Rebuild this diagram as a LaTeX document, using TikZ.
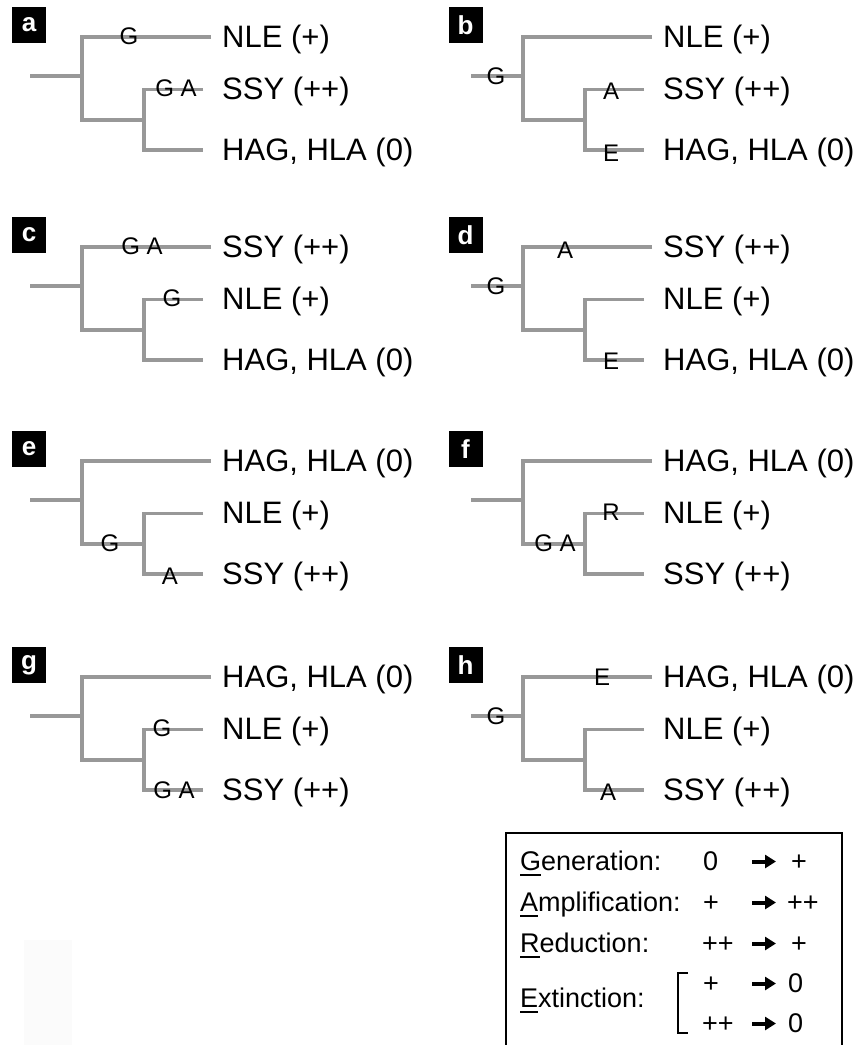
\documentclass[tikz,border=0pt]{standalone}
\usepackage{fontspec}
\setmainfont{Liberation Sans}
\usetikzlibrary{arrows.meta}
\definecolor{branchgray}{RGB}{152,152,152}
\newcommand{\ulet}[1]{\sbox0{#1}\rlap{\rule[-6pt]{\wd0}{2pt}}#1}
\tikzset{
 branch/.style={draw=branchgray, line width=3.2pt},
 leaf/.style={anchor=base west, inner sep=0pt, font=\fontsize{31}{36}\selectfont},
 mut/.style={inner sep=0pt, font=\fontsize{24}{28}\selectfont},
 panellabel/.style={fill=black, text=white, minimum width=34pt, minimum height=36pt, inner sep=0pt, font=\fontsize{26}{30}\selectfont\bfseries},
 legtext/.style={anchor=base west, inner sep=0pt, font=\fontsize{27}{31}\selectfont},
 legarrow/.style={-{Triangle[length=11pt,width=13pt]}, line width=4pt},
 frame/.style={line width=2.3pt},
}
% #1 prefix, #2 letter, #3 box x, #4 top, #5 mid, #6 bottom
\newcommand{\phylo}[6]{%
 \node[panellabel] (#1-lab) at (#3,-12) {#2};
 \coordinate (#1-s) at (30,39); \coordinate (#1-r) at (82,39);
 \coordinate (#1-t) at (82,0); \coordinate (#1-l) at (82,83);
 \coordinate (#1-te) at (211,0);
 \coordinate (#1-i) at (144,83); \coordinate (#1-im) at (144,52.5); \coordinate (#1-ib) at (144,113);
 \coordinate (#1-me) at (203,52.5); \coordinate (#1-be) at (203,113);
 \draw[branch] (#1-s) -- (#1-r);
 \draw[branch] (#1-te) -- (#1-t) -- (#1-l) -- (#1-i);
 \draw[branch] (#1-me) -- (#1-im) -- (#1-ib) -- (#1-be);
 \node[leaf] (#1-top) at (222,10) {#4};
 \node[leaf] (#1-mid) at (222,62.5) {#5};
 \node[leaf] (#1-bot) at (222,123) {#6};
}
\begin{document}
\begin{tikzpicture}[x=1pt,y=-1pt]
\useasboundingbox (0,0) rectangle (859,1045);
\fill[black!1.5] (24,940) rectangle (72,1045);
% a
\begin{scope}[shift={(0,37)}]
 \phylo{a}{a}{29}{NLE (+)}{SSY (++)}{HAG, HLA (0)}
 \node[mut] (a-m1) at (129,-1) {G};
 \node[mut] (a-m2) at (176,51.5) {G A};
\end{scope}
% b
\begin{scope}[shift={(441,37)}]
 \phylo{b}{b}{24.5}{NLE (+)}{SSY (++)}{HAG, HLA (0)}
 \node[mut] (b-m1) at (55,39) {G};
 \node[mut] (b-m2) at (170,54) {A};
 \node[mut] (b-m3) at (170,116) {E};
\end{scope}
% c
\begin{scope}[shift={(0,247)}]
 \phylo{c}{c}{29}{SSY (++)}{NLE (+)}{HAG, HLA (0)}
 \node[mut] (c-m1) at (142,-1) {G A};
 \node[mut] (c-m2) at (172,51.5) {G};
\end{scope}
% d
\begin{scope}[shift={(441,247)}]
 \phylo{d}{d}{24.5}{SSY (++)}{NLE (+)}{HAG, HLA (0)}
 \node[mut] (d-m1) at (55,39) {G};
 \node[mut] (d-m2) at (124,3) {A};
 \node[mut] (d-m3) at (170,114) {E};
\end{scope}
% e
\begin{scope}[shift={(0,461)}]
 \phylo{e}{e}{29}{HAG, HLA (0)}{NLE (+)}{SSY (++)}
 \node[mut] (e-m1) at (110,82) {G};
 \node[mut] (e-m2) at (170,115) {A};
\end{scope}
% f
\begin{scope}[shift={(441,461)}]
 \phylo{f}{f}{24.5}{HAG, HLA (0)}{NLE (+)}{SSY (++)}
 \node[mut] (f-m1) at (114,82) {G A};
 \node[mut] (f-m2) at (170,51.5) {R};
\end{scope}
% g
\begin{scope}[shift={(0,677)}]
 \phylo{g}{g}{29}{HAG, HLA (0)}{NLE (+)}{SSY (++)}
 \node[mut] (g-m1) at (162,51.5) {G};
 \node[mut] (g-m2) at (174,113) {G A};
\end{scope}
% h
\begin{scope}[shift={(441,677)}]
 \phylo{h}{h}{24.5}{HAG, HLA (0)}{NLE (+)}{SSY (++)}
 \node[mut] (h-m1) at (55,39) {G};
 \node[mut] (h-m2) at (161,0) {E};
 \node[mut] (h-m3) at (167,115) {A};
\end{scope}
% legend
\coordinate (box-bl) at (506,1047); \coordinate (box-tl) at (506,833);
\coordinate (box-tr) at (842,833); \coordinate (box-br) at (842,1047);
\draw[frame] (box-bl) -- (box-tl) -- (box-tr) -- (box-br);
\node[legtext] (gen) at (520,870) {\ulet{G}eneration:};
\node[legtext] (gen-a) at (703,870) {0};
\node[legtext] (gen-b) at (791,870) {+};
\coordinate (gen-s) at (752,861.5); \coordinate (gen-e) at (776,861.5);
\draw[legarrow] (gen-s) -- (gen-e);
\node[legtext] (amp) at (520,911) {\ulet{A}mplification:};
\node[legtext] (amp-a) at (703,911) {+};
\node[legtext] (amp-b) at (787,911) {++};
\coordinate (amp-s) at (752,902.5); \coordinate (amp-e) at (776,902.5);
\draw[legarrow] (amp-s) -- (amp-e);
\node[legtext] (red) at (520,952) {\ulet{R}eduction:};
\node[legtext] (red-a) at (702,952) {++};
\node[legtext] (red-b) at (791,952) {+};
\coordinate (red-s) at (752,943.5); \coordinate (red-e) at (776,943.5);
\draw[legarrow] (red-s) -- (red-e);
\node[legtext] (ext) at (520,1007) {\ulet{E}xtinction:};
\coordinate (br-t) at (688,973); \coordinate (br-tc) at (678,973);
\coordinate (br-bc) at (678,1033); \coordinate (br-b) at (688,1033);
\draw[line width=2pt] (br-t) -- (br-tc) -- (br-bc) -- (br-b);
\node[legtext] (ex1-a) at (703,992) {+};
\node[legtext] (ex1-b) at (788,992) {0};
\coordinate (ex1-s) at (752,983.5); \coordinate (ex1-e) at (776,983.5);
\draw[legarrow] (ex1-s) -- (ex1-e);
\node[legtext] (ex2-a) at (702,1032) {++};
\node[legtext] (ex2-b) at (788,1032) {0};
\coordinate (ex2-s) at (752,1023.5); \coordinate (ex2-e) at (776,1023.5);
\draw[legarrow] (ex2-s) -- (ex2-e);
\end{tikzpicture}
\end{document}
